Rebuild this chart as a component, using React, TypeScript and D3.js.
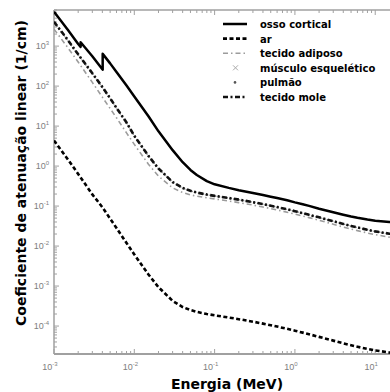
import React, { useEffect, useRef } from 'react';
import * as d3 from 'd3';

// energias (MeV) - grade comum
const energies = [
  0.001, 0.0015, 0.002, 0.003, 0.004, 0.005, 0.006, 0.008, 0.01, 0.015, 0.02, 0.03,
  0.04, 0.05, 0.06, 0.08, 0.1, 0.15, 0.2, 0.3, 0.4, 0.5, 0.6, 0.8, 1, 1.25, 1.5, 2,
  3, 4, 5, 6, 8, 10, 15, 20,
];

// osso cortical tem bordas de absorcao (P e Ca)
const boneEnergies = [
  0.001, 0.0015, 0.002, 0.0021455, 0.0021455, 0.003, 0.004, 0.004038, 0.004038, 0.005,
  0.006, 0.008, 0.01, 0.015, 0.02, 0.03, 0.04, 0.05, 0.06, 0.08, 0.1, 0.15, 0.2, 0.3,
  0.4, 0.5, 0.6, 0.8, 1, 1.25, 1.5, 2, 3, 4, 5, 6, 8, 10, 15, 20,
];
const boneMu = [
  7260, 2486, 1127, 960, 1250, 560, 265, 258, 640, 370,
  225, 103, 55, 17.6, 7.4, 2.5, 1.25, 0.8, 0.6, 0.42, 0.35, 0.285, 0.25, 0.212,
  0.189, 0.172, 0.159, 0.14, 0.124, 0.111, 0.101, 0.086, 0.07, 0.061, 0.055, 0.051, 0.046, 0.043, 0.04, 0.039,
];

const airMu = [
  4.345, 1.435, 0.636, 0.196, 0.0938, 0.0485, 0.0282, 0.01195, 0.00617, 0.001945, 0.000937, 0.000426,
  0.000299, 0.000251, 0.000226, 0.0002, 0.0001857, 0.0001634, 0.0001486, 0.0001286, 0.0001151, 0.000105, 0.0000971, 0.0000852,
  0.0000766, 0.0000685, 0.0000624, 0.0000536, 0.0000432, 0.0000371, 0.0000331, 0.0000304, 0.0000268, 0.0000246, 0.0000218, 0.0000205,
];

const adiposeMu = [
  2660, 893, 399, 124, 53, 27.5, 16.1, 6.75, 3.5, 1.11, 0.56, 0.285,
  0.218, 0.19, 0.177, 0.161, 0.151, 0.134, 0.122, 0.106, 0.0947, 0.0865, 0.08, 0.0703,
  0.0632, 0.0565, 0.0514, 0.0441, 0.0352, 0.03, 0.0267, 0.0243, 0.0212, 0.0193, 0.0167, 0.0155,
];

const muscleMu = [
  3906, 1334, 599, 205, 92.4, 48.3, 27.9, 11.9, 5.63, 1.77, 0.86, 0.394,
  0.281, 0.238, 0.216, 0.192, 0.178, 0.157, 0.143, 0.124, 0.111, 0.101, 0.0936, 0.0822,
  0.0739, 0.0661, 0.0601, 0.0516, 0.0415, 0.0355, 0.0316, 0.0289, 0.0253, 0.0231, 0.0202, 0.0189,
];

const lungMu = [
  3990, 1360, 610, 208, 93.5, 48.9, 28.2, 12.1, 5.68, 1.79, 0.865, 0.396,
  0.282, 0.239, 0.217, 0.193, 0.179, 0.158, 0.144, 0.1245, 0.1113, 0.1016, 0.094, 0.0826,
  0.0742, 0.0664, 0.0604, 0.0518, 0.0417, 0.0356, 0.0317, 0.029, 0.0254, 0.0232, 0.0203, 0.019,
];

const softMu = [
  4060, 1389, 622, 210, 95, 49.8, 28.6, 12.3, 5.72, 1.8, 0.87, 0.399,
  0.284, 0.241, 0.218, 0.194, 0.18, 0.159, 0.145, 0.125, 0.112, 0.1023, 0.0946, 0.0831,
  0.0747, 0.0668, 0.0608, 0.0522, 0.0419, 0.0358, 0.0319, 0.0292, 0.0255, 0.0233, 0.0204, 0.0191,
];

const legendLabels = [
  'osso cortical',
  'ar',
  'tecido adiposo',
  'músculo esquelético',
  'pulmão',
  'tecido mole',
];

const xTickExps = [-3, -2, -1, 0, 1];
const yTickExps = [-4, -3, -2, -1, 0, 1, 2, 3];

const W = 390;
const H = 392;
const M = { left: 54, top: 10, bottom: 354, right: 399.4 };
const FONT = 'Liberation Sans, Arial, sans-serif';
const BOLD = 'DejaVu Sans, sans-serif';

export default function App() {
  const ref = useRef<SVGSVGElement>(null);

  useEffect(() => {
    const svg = d3.select(ref.current);
    svg.selectAll('*').remove();

    const x = d3.scaleLog().domain([1e-3, 20]).range([M.left, M.right]);
    const y = d3.scaleLog().domain([2e-5, 8e3]).range([M.bottom, M.top]);

    svg.append('defs').append('clipPath').attr('id', 'plot')
      .append('rect')
      .attr('x', M.left).attr('y', M.top)
      .attr('width', M.right - M.left).attr('height', M.bottom - M.top);

    // moldura
    const axisColor = '#a0a0a0';
    svg.append('line').attr('x1', M.left).attr('x2', W).attr('y1', M.top).attr('y2', M.top)
      .attr('stroke', axisColor).attr('stroke-width', 1.5);
    svg.append('line').attr('x1', M.left).attr('x2', W).attr('y1', M.bottom).attr('y2', M.bottom)
      .attr('stroke', axisColor).attr('stroke-width', 2);
    svg.append('line').attr('x1', M.left).attr('x2', M.left).attr('y1', M.top).attr('y2', M.bottom)
      .attr('stroke', axisColor).attr('stroke-width', 1.5);

    // ticks log (maiores e menores)
    const xTicks: { v: number; major: boolean }[] = [];
    for (let e = -3; e <= 1; e++) {
      for (let m = 1; m <= 9; m++) {
        const v = m * Math.pow(10, e);
        if (v <= 20) xTicks.push({ v, major: m === 1 });
      }
    }
    const yTicks: { v: number; major: boolean }[] = [];
    for (let e = -5; e <= 3; e++) {
      for (let m = 1; m <= 9; m++) {
        const v = m * Math.pow(10, e);
        if (v >= 2e-5 && v <= 8e3) yTicks.push({ v, major: m === 1 });
      }
    }
    const tg = svg.append('g').attr('stroke', axisColor).attr('stroke-width', 1);
    xTicks.forEach((t) => {
      const px = x(t.v);
      if (px > W) return;
      const len = t.major ? 5 : 3;
      tg.append('line').attr('x1', px).attr('x2', px).attr('y1', M.bottom).attr('y2', M.bottom - len);
      tg.append('line').attr('x1', px).attr('x2', px).attr('y1', M.top).attr('y2', M.top + len);
    });
    yTicks.forEach((t) => {
      const py = y(t.v);
      const len = t.major ? 5 : 3;
      tg.append('line').attr('x1', M.left).attr('x2', M.left + len).attr('y1', py).attr('y2', py);
    });

    // rotulos dos ticks
    const labelColor = '#808080';
    xTickExps.forEach((e) => {
      const t = svg.append('text')
        .attr('x', x(Math.pow(10, e)) - 4)
        .attr('y', M.bottom + 16)
        .attr('text-anchor', 'middle')
        .attr('font-family', FONT).attr('font-size', 9).attr('fill', labelColor);
      t.append('tspan').text('10');
      t.append('tspan').attr('dy', -4).attr('font-size', 6).text(String(e));
    });
    yTickExps.forEach((e) => {
      const t = svg.append('text')
        .attr('x', M.left - 5)
        .attr('y', y(Math.pow(10, e)) + 3)
        .attr('text-anchor', 'end')
        .attr('font-family', FONT).attr('font-size', 9).attr('fill', labelColor);
      t.append('tspan').text('10');
      t.append('tspan').attr('dy', -4).attr('font-size', 6).text(String(e));
    });

    // titulos dos eixos
    svg.append('text')
      .attr('x', 227).attr('y', 389)
      .attr('text-anchor', 'middle')
      .attr('font-family', BOLD).attr('font-weight', 'bold').attr('font-size', 14)
      .text('Energia (MeV)');
    svg.append('text')
      .attr('transform', 'translate(26,173) rotate(-90)')
      .attr('text-anchor', 'middle')
      .attr('font-family', BOLD).attr('font-weight', 'bold').attr('font-size', 14)
      .text('Coeficiente de atenuação linear (1/cm)');

    // curvas
    const styles = [
      { stroke: '#000', width: 2.5, dash: null as string | null, cap: 'butt' },
      { stroke: '#000', width: 2.6, dash: '4,2.5', cap: 'butt' },
      { stroke: '#9c9c9c', width: 1.6, dash: '5,3,1.5,3', cap: 'butt' },
      { stroke: '#c4c4c4', width: 1.3, dash: '1.5,2', cap: 'butt' },
      { stroke: '#666', width: 1.6, dash: '1,3', cap: 'round' },
      { stroke: '#111', width: 2.6, dash: '5,2.5,2,2.5', cap: 'butt' },
    ];
    const series = [
      { xs: boneEnergies, ys: boneMu },
      { xs: energies, ys: airMu },
      { xs: energies, ys: adiposeMu },
      { xs: energies, ys: muscleMu },
      { xs: energies, ys: lungMu },
      { xs: energies, ys: softMu },
    ];
    const line = d3.line<[number, number]>().x((d) => x(d[0])).y((d) => y(d[1]));
    const plot = svg.append('g').attr('clip-path', 'url(#plot)');
    // desenhar tecidos primeiro, osso e ar por cima
    [2, 3, 4, 5, 1, 0].forEach((i) => {
      const s = series[i];
      const st = styles[i];
      const pts = s.xs.map((e, k) => [e, s.ys[k]] as [number, number]);
      plot.append('path')
        .attr('d', line(pts))
        .attr('fill', 'none')
        .attr('stroke', st.stroke)
        .attr('stroke-width', st.width)
        .attr('stroke-dasharray', st.dash)
        .attr('stroke-linecap', st.cap)
        .attr('stroke-linejoin', 'round');
    });

    // legenda
    const lg = svg.append('g');
    legendLabels.forEach((lab, i) => {
      const cy = 24 + i * 14.6;
      const st = styles[i];
      if (i === 3) {
        lg.append('path').attr('d', `M${233},${cy - 2.5}L${238},${cy + 2.5}M${233},${cy + 2.5}L${238},${cy - 2.5}`)
          .attr('stroke', '#aaa').attr('stroke-width', 1);
      } else if (i === 4) {
        lg.append('circle').attr('cx', 235).attr('cy', cy).attr('r', 1.3).attr('fill', '#555');
      } else {
        lg.append('line')
          .attr('x1', 223).attr('x2', 247).attr('y1', cy).attr('y2', cy)
          .attr('stroke', st.stroke).attr('stroke-width', st.width)
          .attr('stroke-dasharray', st.dash);
      }
      lg.append('text')
        .attr('x', 260).attr('y', cy + 4)
        .attr('font-family', BOLD).attr('font-weight', 'bold').attr('font-size', 10)
        .text(lab);
    });
  }, []);

  return (
    <svg ref={ref} width={W} height={H} style={{ position: 'absolute', left: 0, top: 0, background: '#fff' }} />
  );
}
